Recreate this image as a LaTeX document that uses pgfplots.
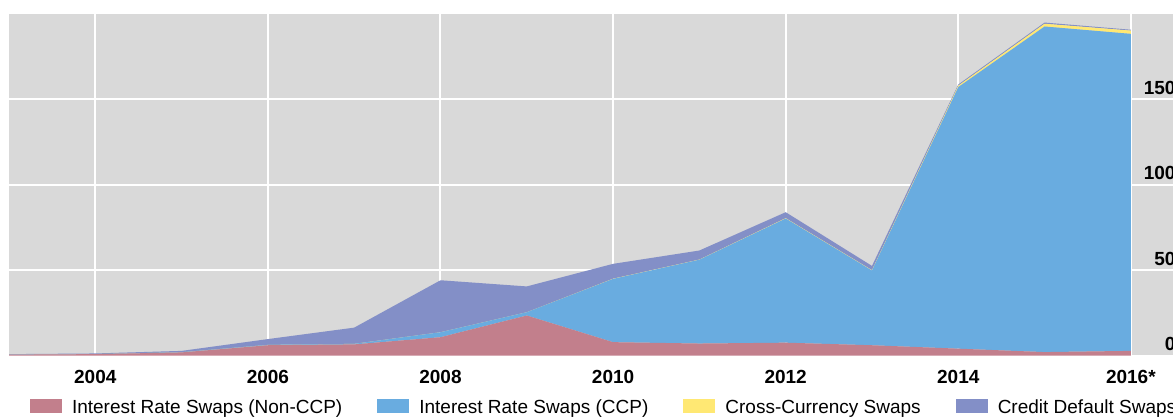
\documentclass[border=0pt]{standalone}
\usepackage{fontspec}
\setmainfont{Liberation Sans}
\usepackage{pgfplots}
\usepackage{pgfplotstable}
\pgfplotsset{compat=1.18}

\definecolor{panelgrey}{HTML}{D9D9D9}
\definecolor{noncpp}{HTML}{C27F8C}
\definecolor{ccp}{HTML}{69ACE0}
\definecolor{xccy}{HTML}{FFE873}
\definecolor{cds}{HTML}{838FC7}

% year, IRS non-CCP, IRS CCP, cross-currency, CDS
\pgfplotstableread{
year  noncpp  ccp    xccy  cds
2003  0.5     0.0    0.0   0.3
2004  0.8     0.0    0.0   0.4
2005  1.8     0.1    0.0   0.8
2006  6.0     0.2    0.0   3.4
2007  6.5     0.3    0.0   9.5
2008  10.7    2.9    0.0   30.4
2009  23.4    1.9    0.0   15.1
2010  7.8     37.0   0.1   8.7
2011  7.0     49.0   0.1   5.3
2012  7.5     72.6   0.2   3.5
2013  6.0     43.7   0.2   2.5
2014  4.0     153.0  0.8   0.7
2015  2.0     190.4  1.6   0.7
2016  2.7     185.4  1.9   0.5
}\swaps

\begin{document}
\begin{tikzpicture}
\begin{axis}[
  at={(0pt,0pt)}, anchor=south west,
  scale only axis, width=1181pt, height=342pt,
  xmin=2003, xmax=2016.685, ymin=0, ymax=200,
  axis line style={draw=none}, tick style={draw=none},
  axis background/.style={fill=panelgrey},
  grid=major, major grid style={white, line width=2pt},
  xtick={2004,2006,2008,2010,2012,2014,2016},
  xticklabels={2004,2006,2008,2010,2012,2014,2016*},
  ytick={0,50,100,150},
  yticklabel pos=right,
  /pgf/number format/assume math mode=true,
  ticklabel style={font=\fontsize{19pt}{22pt}\selectfont\bfseries},
  xticklabel style={anchor=base, yshift=-27.5pt},
  yticklabel style={anchor=base east, xshift=-11pt, yshift=5pt},
  stack plots=y,
  legend columns=4,
  legend image code/.code={\fill[#1] (0pt,-5pt) rectangle (32pt,9pt);},
  legend style={draw=none, fill=none, inner sep=0pt, outer sep=0pt,
    at={(rel axis cs:0,0)}, anchor=north west, xshift=21pt, yshift=-43pt,
    font=\fontsize{19pt}{22pt}\selectfont,
    nodes={inner sep=0pt},
    /tikz/every odd column/.append style={column sep=10pt},
    /tikz/every even column/.append style={column sep=35pt}},
  legend cell align=left,
]
\addplot[fill=noncpp, draw=none] table[x=year, y=noncpp] {\swaps} \closedcycle;
\addlegendentry{Interest Rate Swaps (Non-CCP)}
\addplot[fill=ccp, draw=none] table[x=year, y=ccp] {\swaps} \closedcycle;
\addlegendentry{Interest Rate Swaps (CCP)}
\addplot[fill=xccy, draw=none] table[x=year, y=xccy] {\swaps} \closedcycle;
\addlegendentry{Cross-Currency Swaps}
\addplot[fill=cds, draw=none] table[x=year, y=cds] {\swaps} \closedcycle;
\addlegendentry{Credit Default Swaps}
\end{axis}
\pgfresetboundingbox
\path[use as bounding box] (-9pt,-60.5pt) rectangle (1164pt,355.5pt);
\end{tikzpicture}
\end{document}
